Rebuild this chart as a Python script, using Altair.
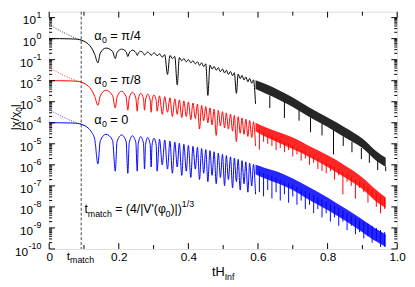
import altair as alt
import pandas as pd

FONT = "Liberation Sans"
W, H = 355, 242
T_MATCH = 0.092
Y_TOP = 10 ** 1.28

# ---------------- values: log10 |chi/chi0| ----------------
init_t     = [0.0, 0.03, 0.06, 0.075, 0.088, 0.100, 0.112, 0.122, 0.131]
black_init = [0.0, 0.0, -0.01, -0.02, -0.05, -0.12, -0.25, -0.45, -0.75]
red_init   = [-2.0, -2.0, -2.01, -2.02, -2.05, -2.12, -2.25, -2.45, -2.75]
blue_init  = [-4.0, -4.0, -4.01, -4.02, -4.05, -4.12, -4.25, -4.45, -4.8]

dip_t  = [0.140, 0.190, 0.226, 0.253, 0.274, 0.293, 0.310, 0.325, 0.340, 0.354,
          0.368, 0.381, 0.394, 0.407, 0.420, 0.432, 0.444, 0.456, 0.468, 0.480,
          0.492, 0.504, 0.515, 0.527, 0.538, 0.549, 0.560, 0.571, 0.582, 0.593]
peak_t = [0.163, 0.208, 0.239, 0.263, 0.283, 0.301, 0.317, 0.332, 0.347, 0.361,
          0.374, 0.387, 0.400, 0.413, 0.426, 0.438, 0.450, 0.462, 0.474, 0.486,
          0.498, 0.509, 0.521, 0.532, 0.543, 0.554, 0.565, 0.576, 0.587]
# shoulders of the first, wide arches (left and right of each peak)
shl_t = [0.147, 0.195, 0.230, 0.256, 0.277, 0.2955]
shr_t = [0.182, 0.221, 0.249, 0.271, 0.290, 0.3075]

black_peak = [-0.45, -0.5, -0.55, -0.6, -0.64, -0.68, -0.72, -0.76, -0.8, -0.85,
              -0.9, -0.95, -1.0, -1.05, -1.1, -1.15, -1.2, -1.26, -1.32, -1.38,
              -1.44, -1.5, -1.56, -1.62, -1.68, -1.75, -1.82, -1.89, -1.96]
black_dip  = [-1.15, -0.95, -0.85, -0.8, -0.78, -0.8, -0.82, -0.88, -1.7, -0.95,
              -2.2, -1.05, -1.1, -1.15, -1.2, -1.27, -1.33, -2.7, -1.45, -1.5,
              -1.57, -1.63, -1.7, -1.76, -2.6, -1.9, -1.97, -2.05, -2.12, -3.1]
black_shl  = [-0.68, -0.66, -0.68, -0.7, -0.73, -0.76]
black_shr  = [-0.6, -0.62, -0.66, -0.7, -0.73, -0.76]
red_peak   = [-2.45, -2.5, -2.55, -2.6, -2.64, -2.68, -2.72, -2.76, -2.81, -2.86,
              -2.91, -2.96, -3.01, -3.06, -3.11, -3.17, -3.23, -3.29, -3.35, -3.41,
              -3.47, -3.53, -3.59, -3.65, -3.71, -3.77, -3.83, -3.89, -3.95]
red_dip    = [-3.17, -3.3, -3.4, -3.45, -3.4, -3.5, -3.45, -3.6, -3.5, -3.7,
              -3.6, -3.75, -3.7, -3.85, -3.8, -4.3, -3.9, -4.0, -4.1, -4.6,
              -4.15, -4.25, -4.3, -4.4, -4.9, -4.5, -4.55, -4.65, -4.7, -5.1]
red_shl    = [-2.72, -2.78, -2.83, -2.88, -2.92, -2.96]
red_shr    = [-2.7, -2.76, -2.82, -2.87, -2.91, -2.95]
blue_peak  = [-4.55, -4.58, -4.62, -4.66, -4.7, -4.74, -4.78, -4.82, -4.87, -4.92,
              -4.97, -5.02, -5.07, -5.12, -5.17, -5.22, -5.27, -5.32, -5.38, -5.44,
              -5.5, -5.56, -5.62, -5.68, -5.74, -5.8, -5.86, -5.92, -5.98]
blue_dip   = [-5.95, -6.3, -6.4, -6.3, -6.2, -6.1, -6.3, -6.0, -6.2, -6.4,
              -6.1, -6.5, -6.3, -6.6, -6.2, -6.7, -6.4, -6.8, -6.5, -6.9,
              -6.6, -7.0, -6.7, -7.1, -6.8, -7.2, -6.9, -7.3, -7.0, -7.4]
blue_shl   = [-4.85, -4.9, -4.95, -5.0, -5.04, -5.08]
blue_shr   = [-4.82, -4.88, -4.93, -4.98, -5.02, -5.06]

# dense oscillation region: band envelopes
band_t   = [0.593, 0.62, 0.66, 0.70, 0.75, 0.80, 0.85, 0.90, 0.94, 0.967]
black_hi = [-1.98, -2.15, -2.45, -2.8, -3.3, -3.75, -4.22, -4.75, -5.35, -5.66]
black_lo = [-2.4, -2.6, -2.9, -3.25, -3.75, -4.2, -4.7, -5.2, -5.8, -6.1]
red_hi   = [-4.0, -4.2, -4.45, -4.7, -5.13, -5.55, -6.03, -6.6, -7.2, -7.55]
red_lo   = [-4.4, -4.65, -4.95, -5.25, -5.65, -6.1, -6.6, -7.15, -7.75, -8.05]
blue_hi  = [-6.0, -6.15, -6.35, -6.65, -7.09, -7.55, -8.07, -8.6, -9.05, -9.3]
blue_lo  = [-6.45, -6.65, -6.9, -7.2, -7.7, -8.15, -8.65, -9.2, -9.65, -9.9]

# spikes below the band (t, top, bottom)
black_sp_t   = [0.634, 0.676, 0.718, 0.751, 0.784, 0.817, 0.845, 0.87, 0.897, 0.92, 0.944, 0.967]
black_sp_top = [-2.7, -3.0, -3.4, -3.75, -4.05, -4.35, -4.65, -4.9, -5.2, -5.45, -5.8, -6.1]
black_sp_bot = [-3.3, -3.77, -3.9, -4.45, -4.6, -5.5, -5.1, -5.4, -5.73, -5.9, -6.25, -6.3]
red_sp_t     = [0.604, 0.616, 0.628, 0.640, 0.652, 0.664, 0.676, 0.688, 0.700, 0.712,
                0.724, 0.736, 0.748, 0.760, 0.772, 0.784, 0.796, 0.808, 0.820, 0.832,
                0.844, 0.856, 0.868, 0.880, 0.892, 0.904, 0.916, 0.928, 0.940, 0.952, 0.964]
red_sp_top   = [-4.35, -4.45, -4.55, -4.65, -4.7, -4.8, -4.9, -5.0, -5.1, -5.2,
                -5.3, -5.4, -5.5, -5.6, -5.7, -5.8, -5.9, -6.0, -6.1, -6.2,
                -6.35, -6.45, -6.55, -6.7, -6.8, -6.9, -7.05, -7.2, -7.35, -7.5, -7.6]
red_sp_bot   = [-5.28, -4.9, -5.0, -5.1, -5.3, -5.2, -5.4, -5.3, -5.6, -5.5,
                -5.8, -5.7, -6.0, -5.9, -6.2, -6.3, -6.4, -6.3, -6.7, -6.5,
                -7.4, -6.8, -7.0, -7.6, -7.1, -7.3, -7.8, -7.5, -8.0, -8.3, -8.1]
blue_sp_t    = [0.604, 0.616, 0.628, 0.640, 0.652, 0.664, 0.676, 0.688, 0.700, 0.712,
                0.724, 0.736, 0.748, 0.760, 0.772, 0.784, 0.796, 0.808, 0.820, 0.832,
                0.844, 0.856, 0.868, 0.880, 0.892, 0.904, 0.916, 0.928, 0.940, 0.952, 0.964]
blue_sp_top  = [-6.3, -6.4, -6.45, -6.55, -6.6, -6.7, -6.8, -6.85, -6.95, -7.05,
                -7.15, -7.25, -7.35, -7.45, -7.55, -7.65, -7.75, -7.85, -7.95, -8.05,
                -8.15, -8.3, -8.4, -8.5, -8.6, -8.7, -8.8, -8.9, -9.0, -9.1, -9.2]
blue_sp_bot  = [-7.3, -7.5, -7.2, -7.6, -7.3, -7.7, -7.4, -7.8, -7.5, -7.9,
                -7.7, -8.1, -7.9, -8.3, -8.1, -8.5, -8.3, -8.7, -8.5, -8.9,
                -8.7, -9.1, -8.9, -9.3, -9.2, -9.5, -9.4, -9.7, -9.6, -9.9, -9.9]

# dotted approximate solutions before matching
dot_t     = [0.0, 0.02, 0.04, 0.06, 0.075, 0.09, 0.10]
black_dot = [0.67, 0.48, 0.30, 0.14, 0.03, -0.06, -0.13]
red_dot   = [-1.38, -1.56, -1.73, -1.88, -1.98, -2.06, -2.13]
blue_dot  = [-3.38, -3.56, -3.73, -3.88, -3.98, -4.06, -4.13]

x_labels = [0.0, 0.2, 0.4, 0.6, 0.8, 1.0]
x_minor = [0.1, 0.3, 0.5, 0.7, 0.9]
y_exps = list(range(-10, 2))

# ---------------- helpers ----------------
xs = alt.Scale(domain=[0, 1], nice=False, zero=False)
ys = alt.Scale(type="log", domain=[1e-10, Y_TOP], nice=False)
xax = alt.Axis(values=x_labels, ticks=False, domain=False, grid=False, title=None,
               labelExpr="datum.value == 0 ? '0' : format(datum.value, '.1f')",
               labelFontSize=12, labelFont=FONT, labelColor="black", labelPadding=3,
               labelFlush=False, labelOverlap=False)

def X(field="t"):
    return alt.X(f"{field}:Q", scale=xs, axis=xax)

def Y(field="v"):
    return alt.Y(f"{field}:Q", scale=ys, axis=None)

def pw(v):
    return 10.0 ** v

def solid_df(init_v, peaks, dips, shl, shr):
    t, v = list(init_t), list(init_v)
    for i in range(len(dip_t)):
        t.append(dip_t[i]); v.append(dips[i])
        if i < len(peak_t):
            if i < len(shl_t):
                t.append(shl_t[i]); v.append(shl[i])
            t.append(peak_t[i]); v.append(peaks[i])
            if i < len(shr_t):
                t.append(shr_t[i]); v.append(shr[i])
    return pd.DataFrame({"t": t, "v": [pw(a) for a in v]})

layers = []
series = [
    ("black", black_init, black_peak, black_dip, black_shl, black_shr, black_hi, black_lo,
     black_sp_t, black_sp_top, black_sp_bot, black_dot),
    ("red", red_init, red_peak, red_dip, red_shl, red_shr, red_hi, red_lo,
     red_sp_t, red_sp_top, red_sp_bot, red_dot),
    ("blue", blue_init, blue_peak, blue_dip, blue_shl, blue_shr, blue_hi, blue_lo,
     blue_sp_t, blue_sp_top, blue_sp_bot, blue_dot),
]
col = {"black": "#000000", "red": "#ff0000", "blue": "#0000ff"}

# dashed t_match line
layers.append(alt.Chart(pd.DataFrame({"t": [T_MATCH]})).mark_rule(
    color="#444444", strokeWidth=1, strokeDash=[3, 2]).encode(x=X()))

for name, ini, pk, dp, shl, shr, hi, lo, st, stop, sbot, dot in series:
    c = col[name]
    ddf = pd.DataFrame({"t": dot_t, "v": [pw(a) for a in dot]})
    layers.append(alt.Chart(ddf).mark_line(color=c, strokeWidth=1, strokeDash=[1, 1.5],
                                           opacity=0.8).encode(x=X(), y=Y()))
    layers.append(alt.Chart(solid_df(ini, pk, dp, shl, shr)).mark_line(
        color=c, strokeWidth=1, interpolate="monotone").encode(x=X(), y=Y()))
    bdf = pd.DataFrame({"t": band_t, "hi": [pw(a) for a in hi], "lo": [pw(a) for a in lo]})
    layers.append(alt.Chart(bdf).mark_area(color=c, opacity=0.85, interpolate="monotone").encode(
        x=X(), y=Y("hi"), y2="lo:Q"))
    sdf = pd.DataFrame({"t": st, "a": [pw(a) for a in stop], "b": [pw(a) for a in sbot]})
    layers.append(alt.Chart(sdf).mark_rule(color=c, strokeWidth=1, clip=True).encode(
        x=X(), y=Y("a"), y2="b:Q"))

# ---------------- axis ticks (inward) ----------------
maj_y = pd.DataFrame({"v": [10.0 ** e for e in y_exps]})
min_y = pd.DataFrame({"v": [k * 10.0 ** e for e in range(-10, 2) for k in range(2, 10)
                            if k * 10.0 ** e < Y_TOP]})
for df, ln in ((maj_y, 6), (min_y, 3)):
    layers.append(alt.Chart(df).mark_rule(color="black", strokeWidth=1).encode(
        y=Y(), x=alt.value(0), x2=alt.value(ln)))
    layers.append(alt.Chart(df).mark_rule(color="black", strokeWidth=1).encode(
        y=Y(), x=alt.value(W), x2=alt.value(W - ln)))
for vals, ln in ((x_labels, 6), (x_minor, 4)):
    df = pd.DataFrame({"t": vals})
    layers.append(alt.Chart(df).mark_rule(color="black", strokeWidth=1).encode(
        x=X(), y=alt.value(H), y2=alt.value(H - ln)))
    layers.append(alt.Chart(df).mark_rule(color="black", strokeWidth=1).encode(
        x=X(), y=alt.value(0), y2=alt.value(ln)))

# ---------------- y tick labels 10^n ----------------
def exp_w(s):
    return sum(3.0 if ch == "-" else 5.0 for ch in s)

ylab = pd.DataFrame({"v": [10.0 ** e for e in y_exps], "e": [str(e) for e in y_exps]})
ylab["px_e"] = -8.0
ylab["px_b"] = [-8.0 - exp_w(s) - 0.5 for s in ylab["e"]]
ylab["ten"] = "10"
layers.append(alt.Chart(ylab).mark_text(font=FONT, fontSize=12, align="right", baseline="middle",
                                        dy=3, color="black").encode(
    y=Y(), x=alt.X("px_b:Q", scale=None), text="ten:N"))
layers.append(alt.Chart(ylab).mark_text(font=FONT, fontSize=9, align="right", baseline="middle",
                                        dy=-2.5, color="black").encode(
    y=Y(), x=alt.X("px_e:Q", scale=None), text="e:N"))

# ---------------- composed texts (main + sub/superscripts) ----------------
EM = {"t": .278, "H": .722, "I": .278, "n": .556, "f": .278, "m": .833, "a": .556, "c": .5,
      "h": .556, " ": .278, "=": .584, "(": .333, ")": .333, "4": .556, "8": .556, "/": .278,
      "|": .26, "V": .667, "'": .191, "φ": .62, "0": .556, "1": .556, "3": .556, "α": .6,
      "π": .58, "χ": .52}

def tw(s, fs):
    return sum(EM.get(ch, .556) for ch in s) * fs

def compose(pieces, x0, y0, main=13):
    """pieces: list of (text, kind) kind in {'n','sub','sup'}"""
    out = []
    x = x0
    for txt, kind in pieces:
        fs = main if kind == "n" else 9
        dy = 0 if kind == "n" else (3.5 if kind == "sub" else -6)
        lead = len(txt) - len(txt.lstrip(" "))
        x += lead * EM[" "] * fs
        body = txt.lstrip(" ")
        out.append(alt.Chart(pd.DataFrame({"s": [body]})).mark_text(
            font=FONT, fontSize=fs, align="left", baseline="alphabetic", color="black").encode(
            x=alt.value(x), y=alt.value(y0 + dy), text="s:N"))
        x += tw(body, fs)
    return out

layers += compose([("α", "n"), ("0", "sub"), (" = π/4", "n")], 46, 28.5)
layers += compose([("α", "n"), ("0", "sub"), (" = π/8", "n")], 46, 73.5)
layers += compose([("α", "n"), ("0", "sub"), (" = 0", "n")], 46, 114.5)
layers += compose([("t", "n"), ("match", "sub"), (" = (4/|V'(φ", "n"), ("0", "sub"),
                   (")|)", "n"), ("1/3", "sup")], 36, 205.5, main=12.5)
layers += compose([("t", "n"), ("match", "sub")], 18, 253, main=12)
layers += compose([("tH", "n"), ("Inf", "sub")], 166, 270, main=13)

# rotated y title |chi/chi0|
yt_fs = 12
yb = 121
for txt, dx, fs in (("|χ/χ", 0, yt_fs), ("0", 3, 8.5), ("|", 0, yt_fs)):
    layers.append(alt.Chart(pd.DataFrame({"s": [txt]})).mark_text(
        font=FONT, fontSize=fs, align="left", baseline="alphabetic", angle=270, color="black").encode(
        x=alt.value(-31 + dx), y=alt.value(yb), text="s:N"))
    yb -= tw(txt, fs)

chart = alt.layer(*layers).properties(
    width=W, height=H,
    autosize=alt.AutoSizeParams(type="none"),
    padding={"left": 42, "top": 1, "right": 10, "bottom": 36},
).configure_view(stroke="black", strokeWidth=1).configure(background="white")

chart.save("out.html", embed_options={"renderer": "svg", "actions": False})
